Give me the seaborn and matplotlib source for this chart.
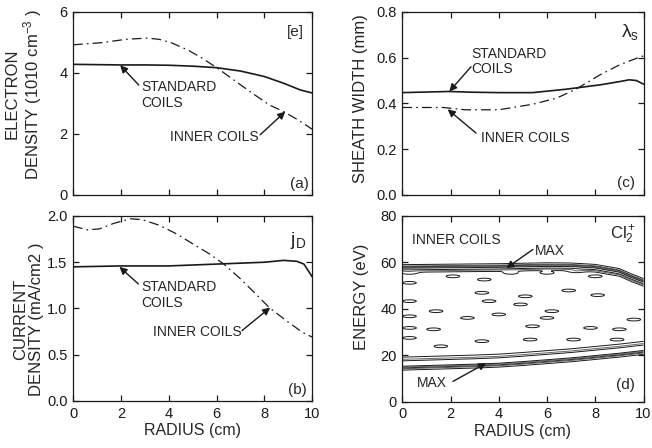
import numpy as np
import matplotlib
matplotlib.use("Agg")
import matplotlib.pyplot as plt
import seaborn as sns

# ---- values ----
# (a) electron density (1e10 cm^-3)
r_std_a = [0, 1, 2, 3, 4, 5, 6, 7, 8, 8.8, 9.5, 10]
std_a = [4.28, 4.27, 4.26, 4.26, 4.25, 4.22, 4.17, 4.06, 3.88, 3.66, 3.44, 3.34]
r_inn_a = [0, 1.2, 2.2, 3.1, 3.6, 4.1, 4.8, 5.4, 6.1, 6.8, 7.5, 8.2, 8.8, 9.4, 10]
inn_a = [4.92, 4.99, 5.10, 5.14, 5.10, 4.99, 4.75, 4.48, 4.12, 3.72, 3.33, 2.95, 2.73, 2.46, 2.15]

# (b) current density (mA/cm2)
r_std_b = [0, 2, 4, 6, 7, 8, 8.8, 9.35, 9.65, 9.85, 10]
std_b = [1.45, 1.46, 1.46, 1.48, 1.49, 1.50, 1.52, 1.51, 1.48, 1.40, 1.34]
r_inn_b = [0, 0.6, 1.1, 1.7, 2.4, 2.9, 3.6, 4.3, 5.0, 5.7, 6.3, 7.0, 7.7, 8.2, 8.9, 9.6, 10]
inn_b = [1.89, 1.85, 1.86, 1.92, 1.97, 1.96, 1.90, 1.81, 1.70, 1.59, 1.48, 1.32, 1.14, 1.01, 0.87, 0.74, 0.69]

# (c) sheath width (mm)
r_std_c = [0, 1.95, 2.8, 4, 5.4, 6.8, 8.2, 9.0, 9.4, 9.7, 10]
std_c = [0.447, 0.452, 0.449, 0.447, 0.447, 0.462, 0.481, 0.495, 0.503, 0.500, 0.484]
r_inn_c = [0, 1.7, 2.6, 4.0, 5.4, 6.4, 7.2, 8.2, 9.0, 9.9, 10]
inn_c = [0.382, 0.382, 0.372, 0.372, 0.396, 0.423, 0.462, 0.525, 0.568, 0.605, 0.607]

# (d) ion energy distribution edges (eV) and small islands
edge_r = [0, 1, 2, 3, 4, 5, 6, 7, 8, 9, 9.5, 10]
edge_low = [14.2, 14.5, 14.8, 15.1, 15.5, 16.2, 17.0, 17.8, 18.8, 19.8, 20.4, 21.0]
edge_high = [58.5, 58.6, 58.7, 58.8, 58.9, 59.1, 59.3, 59.2, 58.6, 56.8, 54.5, 52.5]
blob_r = [2.1, 3.4, 4.5, 6.0, 7.2, 8.0, 3.3, 3.6, 5.1, 6.9, 8.1, 4.9, 6.2, 1.4,
          2.7, 4.0, 6.0, 5.4, 7.8, 9.0, 1.3, 3.3, 5.3, 8.9, 7.1, 9.6, 1.6,
          0.3, 0.3, 0.3, 0.3, 0.3, 0.3]
blob_E = [54.0, 52.6, 55.5, 55.5, 56.2, 54.0, 46.9, 43.3, 45.4, 47.9, 45.9, 41.9, 39.0, 39.0,
          36.1, 37.6, 36.1, 32.5, 31.8, 31.2, 31.2, 26.1, 26.8, 26.8, 26.8, 35.4, 23.9,
          55.5, 51.2, 43.3, 36.8, 31.8, 27.5]

radius_ticks = [0, 2, 4, 6, 8, 10]

sns.set_theme(style="ticks")
plt.rcParams["font.family"] = ["Liberation Sans", "DejaVu Sans"]
plt.rcParams["mathtext.fontset"] = "custom"
plt.rcParams["mathtext.rm"] = "Liberation Sans"
plt.rcParams["mathtext.it"] = "Liberation Sans"
plt.rcParams["mathtext.default"] = "regular"
plt.rcParams["lines.scale_dashes"] = False

fig = plt.figure(figsize=(6.52, 4.48), dpi=100)
ax_a = fig.add_axes([0.112, 0.565, 0.367, 0.4085])
ax_b = fig.add_axes([0.112, 0.105, 0.367, 0.4129])
ax_c = fig.add_axes([0.617, 0.565, 0.370, 0.4085])
ax_d = fig.add_axes([0.617, 0.103, 0.370, 0.4152])

dashdot = (0, (7, 3, 1.2, 3))
arrow = dict(arrowstyle="-|>", color="k", lw=1.0, mutation_scale=11, shrinkA=0, shrinkB=0)


def style_axis(ax, ymax, yticks, ylab, labx, laby, bottom_row):
    ax.set_xlim(0, 10)
    ax.set_ylim(0, ymax)
    ax.set_xticks(radius_ticks)
    ax.set_yticks(yticks)
    ax.tick_params(direction="in", top=True, right=True, length=4, width=0.9,
                   labelsize=10.5, pad=4, colors="k")
    for s in ax.spines.values():
        s.set_linewidth(0.9)
        s.set_color("k")
    ax.set_ylabel(ylab, fontsize=12, linespacing=1.1)
    ax.yaxis.set_label_coords(labx, laby)
    if bottom_row:
        ax.set_xlabel("RADIUS (cm)", fontsize=11.5, labelpad=2)
    else:
        ax.tick_params(labelbottom=False)
        ax.set_xlabel("")


# (a)
sns.lineplot(x=r_std_a, y=std_a, ax=ax_a, color="k", lw=1.2)
sns.lineplot(x=r_inn_a, y=inn_a, ax=ax_a, color="k", lw=0.9, linestyle=dashdot)
style_axis(ax_a, 6, [0, 2, 4, 6], "ELECTRON\nDENSITY (1010 cm$^{-3}$ )", -0.12, 0.55, False)
ax_a.text(2.87, 3.28, "STANDARD\nCOILS", fontsize=10, va="center", ha="left", linespacing=1.15)
ax_a.annotate("", xy=(1.97, 4.25), xytext=(2.75, 3.6), arrowprops=arrow)
ax_a.text(4.06, 1.89, "INNER COILS", fontsize=10, va="center", ha="left")
ax_a.annotate("", xy=(8.87, 2.73), xytext=(7.82, 1.97), arrowprops=arrow)
ax_a.text(0.965, 0.93, "[e]", transform=ax_a.transAxes, fontsize=11, ha="right", va="top")
ax_a.text(0.985, 0.02, "(a)", transform=ax_a.transAxes, fontsize=11, ha="right", va="bottom")

# (b)
sns.lineplot(x=r_std_b, y=std_b, ax=ax_b, color="k", lw=1.2)
sns.lineplot(x=r_inn_b, y=inn_b, ax=ax_b, color="k", lw=0.9, linestyle=dashdot)
style_axis(ax_b, 2.0, [0, 0.5, 1.0, 1.5, 2.0], "CURRENT\nDENSITY (mA/cm2 )", -0.12, 0.44, True)
ax_b.set_yticklabels(["0.0", "0.5", "1.0", "1.5", "2.0"])
ax_b.text(2.87, 1.145, "STANDARD\nCOILS", fontsize=10, va="center", ha="left", linespacing=1.15)
ax_b.annotate("", xy=(1.94, 1.45), xytext=(2.73, 1.265), arrowprops=arrow)
ax_b.text(3.36, 0.745, "INNER COILS", fontsize=10, va="center", ha="left")
ax_b.annotate("", xy=(8.24, 1.01), xytext=(7.06, 0.76), arrowprops=arrow)
ax_b.text(0.975, 0.925, "j$_{D}$", transform=ax_b.transAxes, fontsize=14, ha="right", va="top")
ax_b.text(0.977, 0.023, "(b)", transform=ax_b.transAxes, fontsize=11, ha="right", va="bottom")

# (c)
sns.lineplot(x=r_std_c, y=std_c, ax=ax_c, color="k", lw=1.2)
sns.lineplot(x=r_inn_c, y=inn_c, ax=ax_c, color="k", lw=0.9, linestyle=dashdot)
style_axis(ax_c, 0.8, [0, 0.2, 0.4, 0.6, 0.8], "SHEATH WIDTH (mm)", -0.141, 0.525, False)
ax_c.set_yticklabels(["0.0", "0.2", "0.4", "0.6", "0.8"])
ax_c.text(2.85, 0.583, "STANDARD\nCOILS", fontsize=10, va="center", ha="left", linespacing=1.15)
ax_c.annotate("", xy=(1.95, 0.452), xytext=(2.85, 0.56), arrowprops=arrow)
ax_c.text(3.26, 0.248, "INNER COILS", fontsize=10, va="center", ha="left")
ax_c.annotate("", xy=(1.88, 0.374), xytext=(3.06, 0.27), arrowprops=arrow)
ax_c.text(0.983, 0.947, r"$\lambda_s$", transform=ax_c.transAxes, fontsize=14, ha="right", va="top")
ax_c.text(0.963, 0.027, "(c)", transform=ax_c.transAxes, fontsize=11, ha="right", va="bottom")

# (d) contour map of the ion energy distribution
rr = np.linspace(0, 10, 301)
ee = np.linspace(0, 80, 481)
R, EE = np.meshgrid(rr, ee)
low = np.interp(rr, edge_r, edge_low)[None, :]
high = np.interp(rr, edge_r, edge_high)[None, :]
d_lo = EE - low
d_hi = high - EE
inside = 1 / (1 + np.exp(-d_lo / 0.35)) / (1 + np.exp(-d_hi / 0.35))
field = inside * (1 + 1.1 * np.exp(-((d_lo - 2.2) / 2.0) ** 2)
                  + 0.9 * np.exp(-((d_hi - 1.3) / 1.1) ** 2))
for br, be in zip(blob_r, blob_E):
    field += inside * 0.3 * np.exp(-((R - br) / 0.34) ** 2 - ((EE - be) / 0.7) ** 2)

ax_d.contour(rr, ee, field, levels=[0.2, 0.7, 1.15, 1.45, 1.75],
             colors=["k", "0.35", "k", "0.4", "k"], linewidths=0.7)
style_axis(ax_d, 80, [0, 20, 40, 60, 80], "ENERGY (eV)", -0.136, 0.566, True)
ax_d.text(0.39, 69.7, "INNER COILS", fontsize=10, va="center", ha="left")
ax_d.text(5.48, 65.0, "MAX", fontsize=10, va="center", ha="left")
ax_d.annotate("", xy=(4.31, 57.5), xytext=(5.41, 65.5), arrowprops=arrow)
ax_d.text(0.59, 8.0, "MAX", fontsize=10, va="center", ha="left")
ax_d.annotate("", xy=(3.48, 16.7), xytext=(2.1, 8.8), arrowprops=arrow)
ax_d.text(0.97, 0.96, "Cl$_2^+$", transform=ax_d.transAxes, fontsize=12, ha="right", va="top")
ax_d.text(0.963, 0.055, "(d)", transform=ax_d.transAxes, fontsize=11, ha="right", va="bottom")

fig.savefig("out.png", dpi=100, facecolor="white")
